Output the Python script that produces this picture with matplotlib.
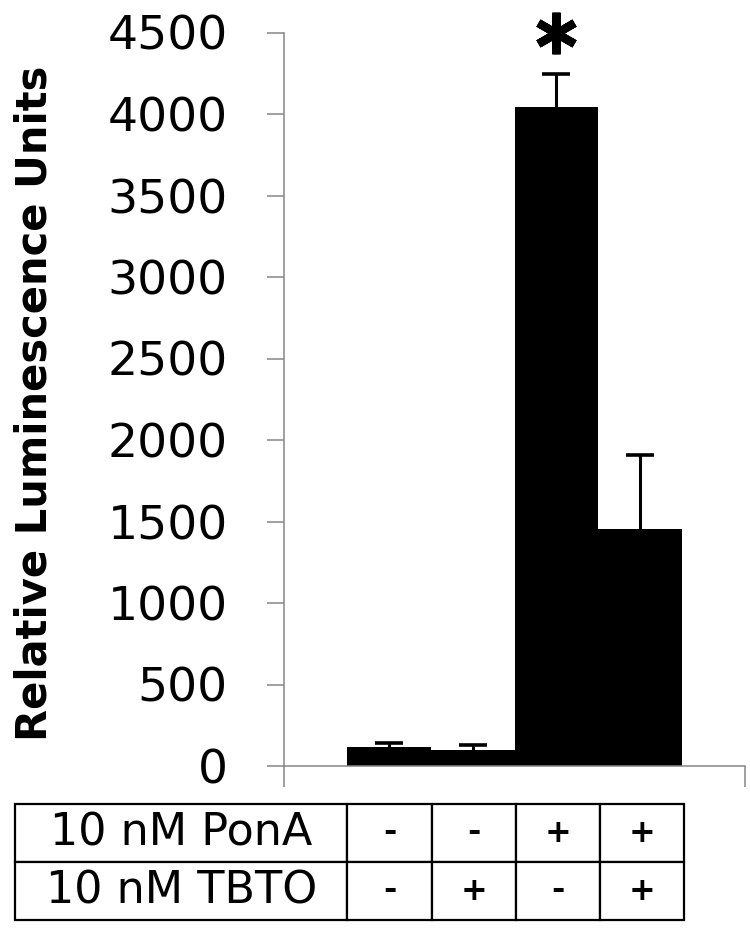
import numpy as np
import matplotlib
matplotlib.use('Agg')
import matplotlib.pyplot as plt

# values
conditions = ['PonA- TBTO-', 'PonA- TBTO+', 'PonA+ TBTO-', 'PonA+ TBTO+']
rlu = [115, 98, 4040, 1455]
rlu_err = [28, 31, 205, 455]
yticks = [0, 500, 1000, 1500, 2000, 2500, 3000, 3500, 4000, 4500]
row_labels = ['10 nM PonA', '10 nM TBTO']
pona = ['-', '-', '+', '+']
tbto = ['-', '+', '-', '+']
signif = [False, False, True, False]

grey = '#868686'
W, H = 750, 932

fig = plt.figure(figsize=(W/100, H/100), dpi=100)
ax = fig.add_axes([284/W, 1 - 766/H, 461/W, (766 - 32.5)/H])

x = np.arange(len(rlu))
ax.bar(x, rlu, width=1.0, color='black', edgecolor='none', zorder=2)
eb = ax.errorbar(x, rlu, yerr=[np.zeros(len(rlu)), rlu_err], fmt='none',
                 ecolor='black', elinewidth=2.2, capsize=10, capthick=2.6, zorder=3)
eb[1][0].set_visible(False)  # plus-only error bars, no cap on the bar top

# significance star
for xi, v, e, s in zip(x, rlu, rlu_err, signif):
    if s:
        ax.plot(xi, v + e + 250, marker=(6, 2, 0), markersize=30, mew=6,
                color='black', clip_on=False, zorder=4)

ax.set_xlim(-1.25, 4.25)
ax.set_ylim(0, 4500)
ax.set_yticks(yticks)
ax.set_yticklabels([str(t) for t in yticks], fontsize=34)
ax.set_xticks([-1.25, 4.25])
ax.set_xticklabels([])
ax.tick_params(axis='y', direction='out', length=12.5, width=1.1, color=grey, pad=28)
ax.tick_params(axis='x', direction='out', length=15, width=1.1, color=grey)
for sp in ['top', 'right']:
    ax.spines[sp].set_visible(False)
for sp in ['left', 'bottom']:
    ax.spines[sp].set_color(grey)
    ax.spines[sp].set_linewidth(1.1)

fig.text(35/W, 1 - 403/H, 'Relative Luminescence Units', rotation=90,
         fontsize=30, fontweight='bold', ha='center', va='center')

# condition table under the bars
tab = fig.add_axes([15/W, 1 - 920/H, (684 - 15)/W, (920 - 804)/H])
tab.axis('off')
cells = [[row_labels[0]] + pona, [row_labels[1]] + tbto]
table = tab.table(cellText=cells, colWidths=[332, 84, 84, 84, 84],
                  cellLoc='center', bbox=[0, 0, 1, 1])
table.auto_set_font_size(False)
for (r, c), cell in table.get_celld().items():
    cell.set_linewidth(1.6)
    cell.set_edgecolor('black')
    t = cell.get_text()
    if c == 0:
        t.set_fontsize(32)
    else:
        t.set_fontsize(23)
        t.set_fontweight('bold')

fig.savefig('out.png', dpi=100)
